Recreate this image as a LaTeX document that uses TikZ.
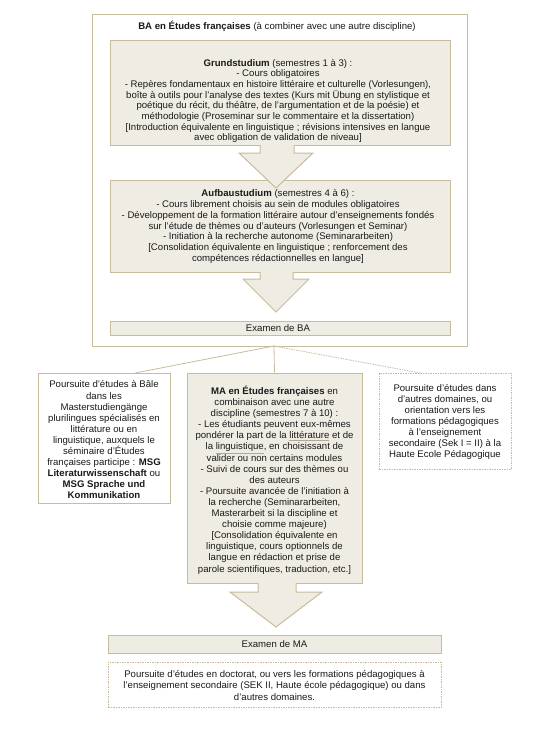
\documentclass[tikz,border=0pt]{standalone}
\usepackage{fontspec}
\setmainfont{Liberation Sans}
\usepackage{xcolor}
\definecolor{boxfill}{HTML}{EFECE4}
\definecolor{boxline}{HTML}{C8BC9C}
\definecolor{txt}{HTML}{1A1A1A}
\definecolor{ulc}{HTML}{B0A890}
\newcommand\tanul[1]{\textcolor{ulc}{\underline{\textcolor{txt}{#1}}}}
\tikzset{
  beige/.style={draw=boxline, fill=boxfill, line width=1pt, inner sep=0pt},
  plain/.style={draw=boxline, fill=white, line width=1pt, inner sep=0pt},
  dash box/.style={draw=boxline, fill=white, line width=0.7pt, dash pattern=on 1.5pt off 1pt, inner sep=0pt},
  txtnode/.style={align=center, text=txt, inner sep=0pt, font=\fontsize{9.6}{11.1}\selectfont},
  txtba/.style={align=center, text=txt, inner sep=0pt, font=\fontsize{9.6}{10.7}\selectfont},
  conn/.style={draw=boxline, line width=0.8pt},
  bigarrow/.style={draw=boxline, fill=boxfill, line width=1pt, line join=miter},
}
\begin{document}
\begin{tikzpicture}[x=1pt,y=-1pt]
\useasboundingbox (0,0) rectangle (550,748);
% outer BA box
\node[plain, minimum width=375pt, minimum height=332pt] (ba) at (279.5,180) {};
\node[txtba] (batitle) at (277,26) {\textbf{BA en Études françaises} (à combiner avec une autre discipline)};
% Grundstudium
\node[beige, minimum width=340pt, minimum height=105pt] (grund) at (280.5,92.5) {};
\node[txtba] (grundtxt) at (278,101) {\textbf{Grundstudium} (semestres 1 à 3) :\\
- Cours obligatoires\\
- Repères fondamentaux en histoire littéraire et culturelle (Vorlesungen),\\
boîte à outils pour l'analyse des textes (Kurs mit Übung en stylistique et\\
poétique du récit, du théâtre, de l'argumentation et de la poésie) et\\
méthodologie (Proseminar sur le commentaire et la dissertation)\\
{[}Introduction équivalente en linguistique ; révisions intensives en langue\\
avec obligation de validation de niveau]};
% Aufbaustudium
\node[beige, minimum width=340pt, minimum height=92pt] (aufbau) at (280.5,226) {};
\node[txtba] (aufbautxt) at (278,226.5) {\textbf{Aufbaustudium} (semestres 4 à 6) :\\
- Cours librement choisis au sein de modules obligatoires\\
- Développement de la formation littéraire autour d'enseignements fondés\\
sur l'étude de thèmes ou d'auteurs (Vorlesungen et Seminar)\\
- Initiation à la recherche autonome (Seminararbeiten)\\
{[}Consolidation équivalente en linguistique ; renforcement des\\
compétences rédactionnelles en langue]};
% arrow 1
\fill[boxfill] (260,144) -- (260,153) -- (239,153) -- (276,188) -- (313,153) -- (294,153) -- (294,144) -- cycle;
\draw[bigarrow, fill=none] (260,145) -- (260,153) -- (239,153) -- (276,188) -- (313,153) -- (294,153) -- (294,145);
% Examen de BA
\node[beige, minimum width=340pt, minimum height=14pt] (exba) at (280.5,328) {};
\node[txtnode] (exbatxt) at (278,328.5) {Examen de BA};
% arrow 2
\fill[boxfill] (260,271) -- (260,279) -- (243,279) -- (276,312) -- (309,279) -- (293,279) -- (293,271) -- cycle;
\draw[bigarrow, fill=none] (260,272) -- (260,279) -- (243,279) -- (276,312) -- (309,279) -- (293,279) -- (293,272);
% lower boxes
\node[plain, minimum width=132pt, minimum height=130pt] (left) at (104,438) {};
\node[beige, minimum width=175pt, minimum height=210pt] (ma) at (274.5,478) {};
\node[dash box, minimum width=132pt, minimum height=96pt] (right) at (445,421) {};
\coordinate (split) at (274,346);
\coordinate (lefttop) at (135,373);
\coordinate (righttop) at (420,373);
\draw[conn] (split) -- (lefttop);
\draw[conn] (split) -- (ma.north);
\draw[conn, dash pattern=on 1.5pt off 1pt] (split) -- (righttop);
\node[txtnode] (lefttxt) at (104,440) {Poursuite d'études à Bâle\\
dans les\\
Masterstudiengänge\\
plurilingues spécialisés en\\
littérature ou en\\
linguistique, auxquels le\\
séminaire d'Études\\
françaises participe : \textbf{MSG}\\
\textbf{Literaturwissenschaft} ou\\
\textbf{MSG Sprache und}\\
\textbf{Kommunikation}};
\node[txtnode] (matxt) at (274.5,480) {\textbf{MA en Études françaises} en\\
combinaison avec une autre\\
discipline (semestres 7 à 10) :\\
- Les étudiants peuvent eux-mêmes\\
pondérer la part de la \tanul{littérature} et de\\
la \tanul{linguistique}, en choisissant de\\
valider ou non certains modules\\
- Suivi de cours sur des thèmes ou\\
des auteurs\\
- Poursuite avancée de l'initiation à\\
la recherche (Seminararbeiten,\\
Masterarbeit si la discipline et\\
choisie comme majeure)\\
{[}Consolidation équivalente en\\
linguistique, cours optionnels de\\
langue en rédaction et prise de\\
parole scientifiques, traduction, etc.]};
\node[txtnode] (righttxt) at (445,422) {Poursuite d'études dans\\
d'autres domaines, ou\\
orientation vers les\\
formations pédagogiques\\
à l'enseignement\\
secondaire (Sek I = II) à la\\
Haute Ecole Pédagogique};
% arrow 3
\fill[boxfill] (258,582) -- (258,592) -- (230,592) -- (276,627) -- (322,592) -- (296,592) -- (296,582) -- cycle;
\draw[bigarrow, fill=none] (258,583) -- (258,592) -- (230,592) -- (276,627) -- (322,592) -- (296,592) -- (296,583);
% Examen de MA
\node[beige, minimum width=333pt, minimum height=18pt] (exma) at (274.5,644) {};
\node[txtnode] (exmatxt) at (274.5,644.5) {Examen de MA};
% final box
\node[dash box, minimum width=333pt, minimum height=45pt] (final) at (274.5,684.5) {};
\node[txtnode] (finaltxt) at (274.5,685.5) {Poursuite d'études en doctorat, ou vers les formations pédagogiques à\\
l'enseignement secondaire (SEK II, Haute école pédagogique) ou dans\\
d'autres domaines.};
\end{tikzpicture}
\end{document}
